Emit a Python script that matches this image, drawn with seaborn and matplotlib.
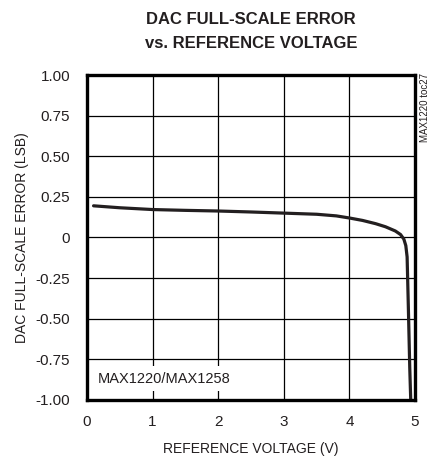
import matplotlib
matplotlib.use("Agg")
import matplotlib.pyplot as plt
import seaborn as sns
import pandas as pd

ref_voltage = [0.1, 0.5, 1.0, 1.5, 2.0, 2.5, 3.0, 3.5, 3.8, 4.0, 4.2, 4.4, 4.55,
               4.7, 4.78, 4.83, 4.86, 4.88, 4.9, 4.92, 4.935]
fs_error = [0.195, 0.183, 0.172, 0.167, 0.163, 0.157, 0.150, 0.143, 0.133, 0.120,
            0.105, 0.085, 0.066, 0.040, 0.018, -0.010, -0.050, -0.120, -0.450,
            -0.800, -1.000]
x_ticks = [0, 1, 2, 3, 4, 5]
x_tick_labels = ["0", "1", "2", "3", "4", "5"]
y_ticks = [1.0, 0.75, 0.5, 0.25, 0.0, -0.25, -0.5, -0.75, -1.0]
y_tick_labels = ["1.00", "0.75", "0.50", "0.25", "0", "-0.25", "-0.50", "-0.75", "-1.00"]

sns.set_style("white")
plt.rcParams["font.family"] = ["Liberation Sans", "DejaVu Sans"]

df = pd.DataFrame({"V": ref_voltage, "E": fs_error})

fig = plt.figure(figsize=(4.35, 4.58), dpi=100)
ax = fig.add_axes([0.2, 0.127, 0.754, 0.709])

sns.lineplot(data=df, x="V", y="E", ax=ax, color="#231f20", linewidth=2.3,
             sort=False, estimator=None, zorder=5)

ax.set_xlim(0, 5)
ax.set_ylim(-1.0, 1.0)
ax.set_xticks(x_ticks)
ax.set_xticklabels(x_tick_labels)
ax.set_yticks(y_ticks)
ax.set_yticklabels(y_tick_labels)
ax.grid(True, color="black", linewidth=0.9)
ax.set_axisbelow(True)
ax.tick_params(length=0, labelsize=11, colors="#231f20")
ax.tick_params(axis="x", pad=11)
ax.tick_params(axis="y", pad=12)
for s in ax.spines.values():
    s.set_visible(True)
    s.set_color("black")
    s.set_linewidth(2.4)
    s.set_zorder(10)

ax.set_xlabel("REFERENCE VOLTAGE (V)", fontsize=10, color="#231f20")
ax.set_ylabel("DAC FULL-SCALE ERROR (LSB)", fontsize=10, color="#231f20")
ax.xaxis.set_label_coords(0.5, -0.151)
ax.yaxis.set_label_coords(-0.198, 0.5)
ax.xaxis.label.set_va("center")
ax.yaxis.label.set_va("center")

ax.text(0.17, -0.87, "MAX1220/MAX1258", fontsize=10.5, color="#231f20",
        ha="left", va="center", zorder=6,
        bbox=dict(facecolor="white", edgecolor="none", pad=4))

fig.text(0.577, 1 - 20 / 458, "DAC FULL-SCALE ERROR", ha="center", va="center",
         fontsize=12, fontweight="bold", color="#231f20")
fig.text(0.577, 1 - 44 / 458, "vs. REFERENCE VOLTAGE", ha="center", va="center",
         fontsize=12, fontweight="bold", color="#231f20")
fig.text(425 / 435, 1 - 73 / 458, "MAX1220 toc27", rotation=90, ha="center",
         va="top", fontsize=7, color="#231f20")

fig.savefig("out.png", dpi=100)
